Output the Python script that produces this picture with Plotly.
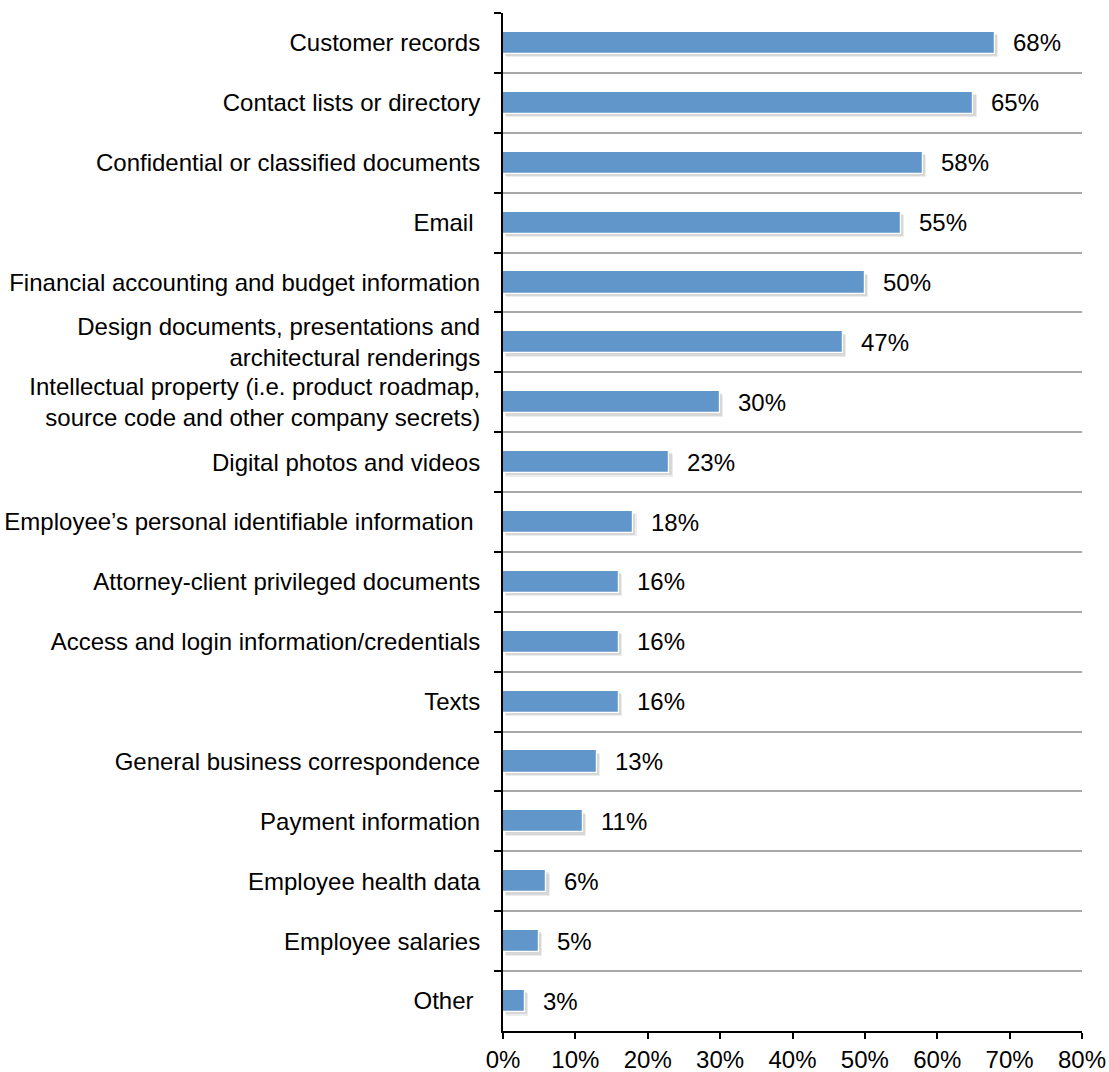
import plotly.graph_objects as go

# Survey results: types of data put at risk
categories = [
    "Customer records",
    "Contact lists or directory",
    "Confidential or classified documents",
    "Email\u00a0",
    "Financial accounting and budget information",
    "Design documents, presentations and<br>architectural renderings",
    "Intellectual property (i.e. product roadmap,<br>source code and other company secrets)",
    "Digital photos and videos",
    "Employee\u2019s personal identifiable information\u00a0",
    "Attorney-client privileged documents",
    "Access and login information/credentials",
    "Texts",
    "General business correspondence",
    "Payment information",
    "Employee health data",
    "Employee salaries",
    "Other\u00a0",
]
percentages = [68, 65, 58, 55, 50, 47, 30, 23, 18, 16, 16, 16, 13, 11, 6, 5, 3]
x_tick_values = [0, 10, 20, 30, 40, 50, 60, 70, 80]
x_tick_labels = [f"{v}%" for v in x_tick_values]

FONT = "Liberation Sans, Arial, Helvetica, sans-serif"
FONT_SIZE = 24
BAR_COLOR = "#6096ca"
BAR_WIDTH = 0.37

fig = go.Figure()

# soft drop shadow behind each bar
for shift, alpha in [(0.45, 0.07), (0.3, 0.09)]:
    fig.add_trace(go.Bar(
        y=categories,
        x=percentages,
        base=shift,
        orientation="h",
        width=BAR_WIDTH,
        offset=-BAR_WIDTH / 2 + shift / 8,
        marker=dict(color=f"rgba(0,0,0,{alpha})", line=dict(width=0)),
        hoverinfo="skip",
        showlegend=False,
    ))

fig.add_trace(go.Bar(
    y=categories,
    x=percentages,
    orientation="h",
    width=BAR_WIDTH,
    offset=-BAR_WIDTH / 2,
    marker=dict(color=BAR_COLOR, line=dict(color="white", width=1.2)),
    showlegend=False,
))

# value labels to the right of each bar
for cat, val in zip(categories, percentages):
    fig.add_annotation(
        x=val, y=cat, text=f"{val}%",
        xanchor="left", yanchor="middle",
        xshift=16, showarrow=False,
        font=dict(family=FONT, size=FONT_SIZE, color="#000000"),
    )

fig.update_layout(
    width=1109,
    height=1072,
    margin=dict(l=503, r=27, t=13, b=41),
    paper_bgcolor="white",
    plot_bgcolor="white",
    barmode="overlay",
    font=dict(family=FONT, size=FONT_SIZE, color="#000000"),
    bargap=0,
)

fig.update_xaxes(
    range=[0, 80],
    tickvals=x_tick_values,
    ticktext=x_tick_labels,
    automargin=False,
    showgrid=False,
    zeroline=False,
    showline=True,
    linecolor="#000000",
    linewidth=2,
    ticks="outside",
    ticklen=6,
    tickwidth=2,
    tickcolor="#000000",
    tickfont=dict(family=FONT, size=FONT_SIZE),
)

fig.update_yaxes(
    type="category",
    autorange="reversed",
    automargin=False,
    tickson="boundaries",
    showgrid=True,
    gridcolor="#a8a8a8",
    gridwidth=2,
    showline=True,
    linecolor="#000000",
    linewidth=2,
    ticks="outside",
    ticklen=7,
    tickwidth=2,
    tickcolor="#000000",
    ticklabelstandoff=16,
    tickfont=dict(family=FONT, size=FONT_SIZE),
)

fig.write_html("out.html")
